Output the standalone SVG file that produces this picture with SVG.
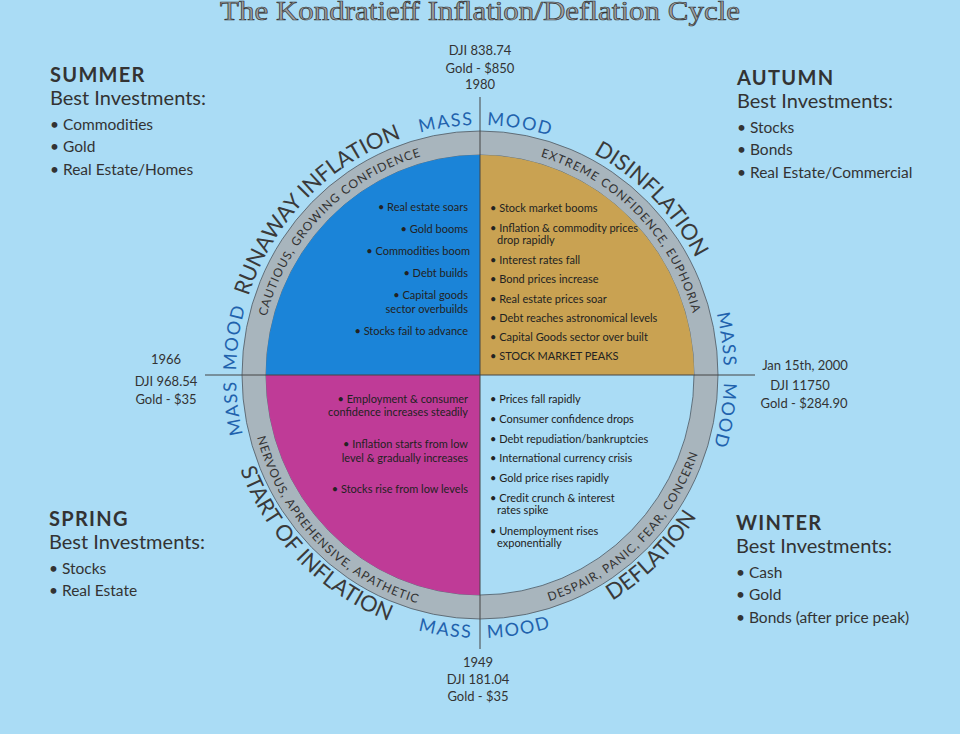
<svg xmlns="http://www.w3.org/2000/svg" xmlns:xlink="http://www.w3.org/1999/xlink" width="960" height="734" viewBox="0 0 960 734">
<style>
text{font-family:Lato,"Open Sans","Liberation Sans",sans-serif;fill:#333}
.title{font-family:"Liberation Serif","DejaVu Serif",serif;font-size:28px;fill:#a0a0a0;stroke:#333;stroke-width:0.7}
.hdr{font-size:20px;font-weight:700;letter-spacing:1.3px}
.best{font-size:20px}
.inv{font-size:15.5px}
.date{font-size:13px;text-anchor:middle}
.q{font-size:11px;fill:#222}
.qr{font-size:11px;fill:#222;text-anchor:end}
.big{font-size:22px;fill:#3a3a3a}
.mm{font-size:18px;fill:#1f62ad;letter-spacing:1.5px}
.band{font-size:12px;fill:#333;letter-spacing:1px}
.axis{stroke:#444;stroke-width:1;fill:none}
</style>
<defs>
<path id="outcw" d="M480,625 A244,250 0 1 1 480,125 A244,250 0 1 1 480,625"/>
<path id="incw" d="M480,602 A221,227 0 1 1 480,148 A221,227 0 1 1 480,602"/>
<path id="inccw" d="M480,138 A231,237 0 1 0 480,612 A231,237 0 1 0 480,138"/>
<path id="outccw" d="M480,112 A257,263 0 1 0 480,638 A257,263 0 1 0 480,112"/>
</defs>
<rect width="960" height="734" fill="#aadcf5"/>
<text class="title" x="220" y="20" textLength="520" lengthAdjust="spacingAndGlyphs">The Kondratieff Inflation/Deflation Cycle</text>

<g id="cycle">
<ellipse cx="480" cy="375" rx="238" ry="244" fill="#a8b5bd" stroke="#4d5862" stroke-width="0.8"/>
<ellipse cx="480" cy="375" rx="214" ry="220" fill="#aadcf5" stroke="#4d5862" stroke-width="0.8"/>
<path d="M480,375 L266,375 A214,220 0 0 1 480,155 Z" fill="#1b84d8"/>
<path d="M480,375 L480,155 A214,220 0 0 1 694,375 Z" fill="#c9a252"/>
<path d="M480,375 L480,595 A214,220 0 0 1 266,375 Z" fill="#bf3b97"/>
</g>

<g id="connectors">
<line class="axis" x1="480" y1="97" x2="480" y2="649"/>
<line class="axis" x1="205" y1="375" x2="755" y2="375"/>
</g>

<g id="ring-labels">
<text class="big"><textPath xlink:href="#outcw" href="#outcw" startOffset="37.5%" text-anchor="middle">RUNAWAY INFLATION</textPath></text>
<text class="big"><textPath xlink:href="#outcw" href="#outcw" startOffset="62.4%" text-anchor="middle">DISINFLATION</textPath></text>
<text class="big"><textPath xlink:href="#outccw" href="#outccw" startOffset="37.6%" text-anchor="middle">START OF INFLATION</textPath></text>
<text class="big"><textPath xlink:href="#outccw" href="#outccw" startOffset="62.2%" text-anchor="middle">DEFLATION</textPath></text>
<text class="band"><textPath xlink:href="#incw" href="#incw" startOffset="37.5%" text-anchor="middle">CAUTIOUS, GROWING CONFIDENCE</textPath></text>
<text class="band"><textPath xlink:href="#incw" href="#incw" startOffset="62.5%" text-anchor="middle">EXTREME CONFIDENCE, EUPHORIA</textPath></text>
<text class="band"><textPath xlink:href="#inccw" href="#inccw" startOffset="37.5%" text-anchor="middle">NERVOUS, APREHENSIVE, APATHETIC</textPath></text>
<text class="band"><textPath xlink:href="#inccw" href="#inccw" startOffset="62.2%" text-anchor="middle">DESPAIR, PANIC, FEAR, CONCERN</textPath></text>
<text class="mm"><textPath xlink:href="#outcw" href="#outcw" startOffset="49.6%" text-anchor="end">MASS</textPath></text>
<text class="mm"><textPath xlink:href="#outcw" href="#outcw" startOffset="50.45%" text-anchor="start">MOOD</textPath></text>
<text class="mm"><textPath xlink:href="#outcw" href="#outcw" startOffset="74.5%" text-anchor="end">MASS</textPath></text>
<text class="mm"><textPath xlink:href="#outcw" href="#outcw" startOffset="75.5%" text-anchor="start">MOOD</textPath></text>
<text class="mm"><textPath xlink:href="#outcw" href="#outcw" startOffset="24.65%" text-anchor="end">MASS</textPath></text>
<text class="mm"><textPath xlink:href="#outcw" href="#outcw" startOffset="25.3%" text-anchor="start">MOOD</textPath></text>
<text class="mm"><textPath xlink:href="#outccw" href="#outccw" startOffset="49.5%" text-anchor="end">MASS</textPath></text>
<text class="mm"><textPath xlink:href="#outccw" href="#outccw" startOffset="50.45%" text-anchor="start">MOOD</textPath></text>
</g>

<g id="q-runaway">
<text class="qr" x="468" y="211">• Real estate soars</text>
<text class="qr" x="468" y="233">• Gold booms</text>
<text class="qr" x="470" y="255">• Commodities boom</text>
<text class="qr" x="468" y="277">• Debt builds</text>
<text class="qr" x="468" y="299">• Capital goods</text>
<text class="qr" x="468" y="313">sector overbuilds</text>
<text class="qr" x="468" y="335">• Stocks fail to advance</text>
</g>

<g id="q-disinflation">
<text class="q" x="490" y="212">• Stock market booms</text>
<text class="q" x="490" y="232">• Inflation &amp; commodity prices</text>
<text class="q" x="497" y="244">drop rapidly</text>
<text class="q" x="490" y="264">• Interest rates fall</text>
<text class="q" x="490" y="283">• Bond prices increase</text>
<text class="q" x="490" y="303">• Real estate prices soar</text>
<text class="q" x="490" y="322">• Debt reaches astronomical levels</text>
<text class="q" x="490" y="341">• Capital Goods sector over built</text>
<text class="q" x="490" y="360">• STOCK MARKET PEAKS</text>
</g>

<g id="q-start">
<text class="qr" x="468" y="403">• Employment &amp; consumer</text>
<text class="qr" x="468" y="416">confidence increases steadily</text>
<text class="qr" x="468" y="448">• Inflation starts from low</text>
<text class="qr" x="468" y="462">level &amp; gradually increases</text>
<text class="qr" x="468" y="493">• Stocks rise from low levels</text>
</g>

<g id="q-deflation">
<text class="q" x="490" y="403">• Prices fall rapidly</text>
<text class="q" x="490" y="423">• Consumer confidence drops</text>
<text class="q" x="490" y="443">• Debt repudiation/bankruptcies</text>
<text class="q" x="490" y="462">• International currency crisis</text>
<text class="q" x="490" y="482">• Gold price rises rapidly</text>
<text class="q" x="490" y="502">• Credit crunch &amp; interest</text>
<text class="q" x="497" y="514">rates spike</text>
<text class="q" x="490" y="535">• Unemployment rises</text>
<text class="q" x="497" y="547">exponentially</text>
</g>

<g id="date-1980">
<text class="date" x="480" y="55">DJI 838.74</text>
<text class="date" x="480" y="73">Gold - $850</text>
<text class="date" x="480" y="89">1980</text>
</g>
<g id="date-1949">
<text class="date" x="478" y="667">1949</text>
<text class="date" x="478" y="684">DJI 181.04</text>
<text class="date" x="478" y="701">Gold - $35</text>
</g>
<g id="date-1966">
<text class="date" x="166" y="364">1966</text>
<text class="date" x="166" y="386">DJI 968.54</text>
<text class="date" x="166" y="404">Gold - $35</text>
</g>
<g id="date-2000">
<text class="date" x="805" y="370">Jan 15th, 2000</text>
<text class="date" x="800" y="390">DJI 11750</text>
<text class="date" x="804" y="408">Gold - $284.90</text>
</g>

<g id="summer">
<text class="hdr" x="50" y="82">SUMMER</text>
<text class="best" x="50" y="105">Best Investments:</text>
<text class="inv" x="50" y="130">• Commodities</text>
<text class="inv" x="50" y="152">• Gold</text>
<text class="inv" x="50" y="175">• Real Estate/Homes</text>
</g>
<g id="autumn">
<text class="hdr" x="737" y="85">AUTUMN</text>
<text class="best" x="737" y="108">Best Investments:</text>
<text class="inv" x="737" y="133">• Stocks</text>
<text class="inv" x="737" y="155">• Bonds</text>
<text class="inv" x="737" y="178">• Real Estate/Commercial</text>
</g>
<g id="spring">
<text class="hdr" x="49" y="526">SPRING</text>
<text class="best" x="49" y="549">Best Investments:</text>
<text class="inv" x="49" y="574">• Stocks</text>
<text class="inv" x="49" y="596">• Real Estate</text>
</g>
<g id="winter">
<text class="hdr" x="736" y="530">WINTER</text>
<text class="best" x="736" y="553">Best Investments:</text>
<text class="inv" x="736" y="578">• Cash</text>
<text class="inv" x="736" y="600">• Gold</text>
<text class="inv" x="736" y="623">• Bonds (after price peak)</text>
</g>
</svg>
